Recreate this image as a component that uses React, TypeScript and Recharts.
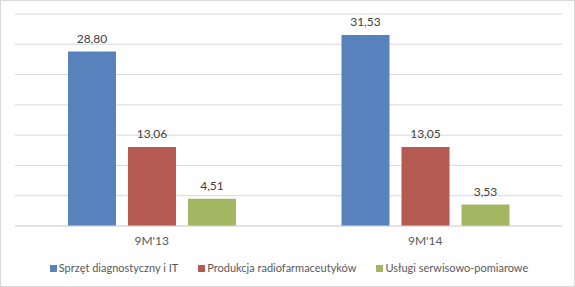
import React from 'react';
import { BarChart, Bar, XAxis, YAxis, CartesianGrid, Legend, LabelList } from 'recharts';

const periods = ["9M'13", "9M'14"];
const sprzet = [28.8, 31.53];
const produkcja = [13.06, 13.05];
const uslugi = [4.51, 3.53];
const yTicks = [0, 5, 10, 15, 20, 25, 30, 35];

const series = [
  { key: 'sprzet', name: 'Sprzęt diagnostyczny i IT', color: '#5882BB' },
  { key: 'produkcja', name: 'Produkcja radiofarmaceutyków', color: '#B55A52' },
  { key: 'uslugi', name: 'Usługi serwisowo-pomiarowe', color: '#A3B662' },
];

const data = periods.map((p, i) => ({
  name: p,
  sprzet: sprzet[i],
  produkcja: produkcja[i],
  uslugi: uslugi[i],
}));

const FONT = 'Lato, "Liberation Sans", sans-serif';

const fmt = (v: number) => v.toFixed(2).replace('.', ',');

const ChartLegend = () => (
  <div
    style={{
      display: 'flex',
      justifyContent: 'center',
      alignItems: 'center',
      gap: 20,
      fontFamily: FONT,
      fontSize: 11,
      color: '#595959',
      lineHeight: '16px',
      paddingLeft: 3,
    }}
  >
    {series.map(s => (
      <div key={s.key} style={{ display: 'flex', alignItems: 'center' }}>
        <span style={{ width: 7, height: 7, background: s.color, display: 'inline-block', marginRight: 2 }} />
        <span>{s.name}</span>
      </div>
    ))}
  </div>
);

export default function App() {
  return (
    <div style={{ position: 'fixed', left: 0, top: 0, width: 575, height: 287, background: '#fff' }}>
      <BarChart
        width={575}
        height={287}
        data={data}
        margin={{ top: 14, right: 13, left: 15, bottom: 31 }}
        barGap={12}
        barSize={48}
      >
        <CartesianGrid vertical={false} stroke="#d9d9d9" />
        <XAxis
          dataKey="name"
          height={30}
          axisLine={{ stroke: '#d9d9d9' }}
          tickLine={false}
          tickMargin={4}
          tick={{ fill: '#595959', fontSize: 12, fontFamily: FONT }}
        />
        <YAxis hide domain={[0, 35]} ticks={yTicks} />
        <Legend
          verticalAlign="middle"
          align="center"
          layout="horizontal"
          wrapperStyle={{ top: 260, left: 0, width: 575 }}
          content={<ChartLegend />}
        />
        {series.map(s => (
          <Bar key={s.key} dataKey={s.key} name={s.name} fill={s.color} isAnimationActive={false}>
            <LabelList
              dataKey={s.key}
              position="top"
              offset={9}
              formatter={(v: number) => fmt(v)}
              style={{ fill: '#404040', fontSize: 12, fontFamily: FONT }}
            />
          </Bar>
        ))}
      </BarChart>
      <div
        style={{
          position: 'absolute',
          left: 0,
          top: 0,
          width: 575,
          height: 287,
          boxSizing: 'border-box',
          border: '1px solid #d9d9d9',
          pointerEvents: 'none',
        }}
      />
    </div>
  );
}
